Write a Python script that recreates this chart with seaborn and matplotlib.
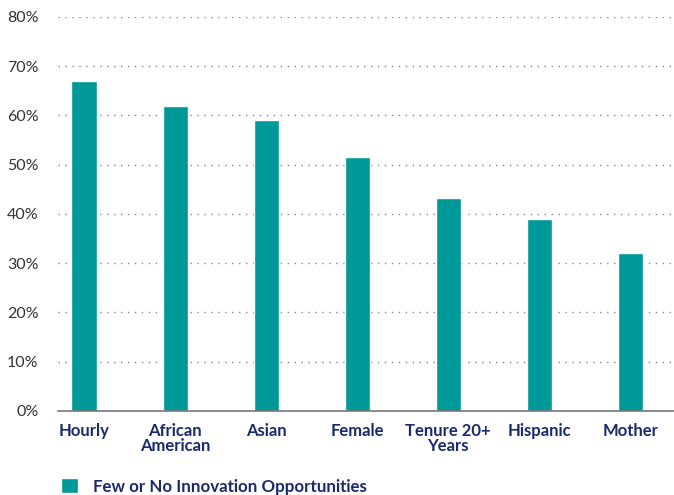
import matplotlib
matplotlib.use("Agg")
import matplotlib.pyplot as plt
import seaborn as sns
import pandas as pd
from matplotlib.patches import Patch

categories = ["Hourly", "African\nAmerican", "Asian", "Female", "Tenure 20+\nYears", "Hispanic", "Mother"]
values = [67, 62, 59, 51.6, 43.3, 39, 32]
series_name = "Few or No Innovation Opportunities"
yticks = [0, 10, 20, 30, 40, 50, 60, 70, 80]

sns.set_theme(style="white")
plt.rcParams['font.family'] = ['Lato', 'DejaVu Sans']

teal = "#009999"
navy = "#1b2a6b"

df = pd.DataFrame({"cat": categories, "val": values})
fig = plt.figure(figsize=(6.74, 4.95), dpi=100)
ax = fig.add_axes([0.086, 0.1697, 0.914, 0.796])
sns.barplot(data=df, x="cat", y="val", color=teal, width=0.275, saturation=1, ax=ax)

ax.set_ylim(0, 80)
ax.set_xlim(-0.286, 6.48)
ax.set_yticks(yticks)
ax.set_yticklabels([f"{t}%" for t in yticks], fontsize=11.5, color="#333333")
ax.tick_params(axis="x", labelsize=12, labelcolor=navy, length=0, pad=9)
ax.tick_params(axis="y", length=0, pad=14)
for lbl in ax.get_xticklabels():
    lbl.set_fontweight("bold")
    lbl.set_linespacing(0.9)
ax.set_xlabel("")
ax.set_ylabel("")
for s in ["top", "right", "left"]:
    ax.spines[s].set_visible(False)
ax.spines["bottom"].set_color("#777777")
ax.spines["bottom"].set_linewidth(1.2)
ax.yaxis.grid(True, linestyle=(0, (1, 4)), color="#888888", linewidth=1)
ax.set_axisbelow(True)

handles = [Patch(facecolor=teal, label=series_name)]
fig.legend(handles=handles, loc="lower left", bbox_to_anchor=(0.068, -0.03), frameon=False,
           labelcolor=navy, handlelength=1.0, handleheight=1.0, handletextpad=0.9,
           prop={"weight": "bold", "size": 12.2})

fig.savefig("out.png", dpi=100)
